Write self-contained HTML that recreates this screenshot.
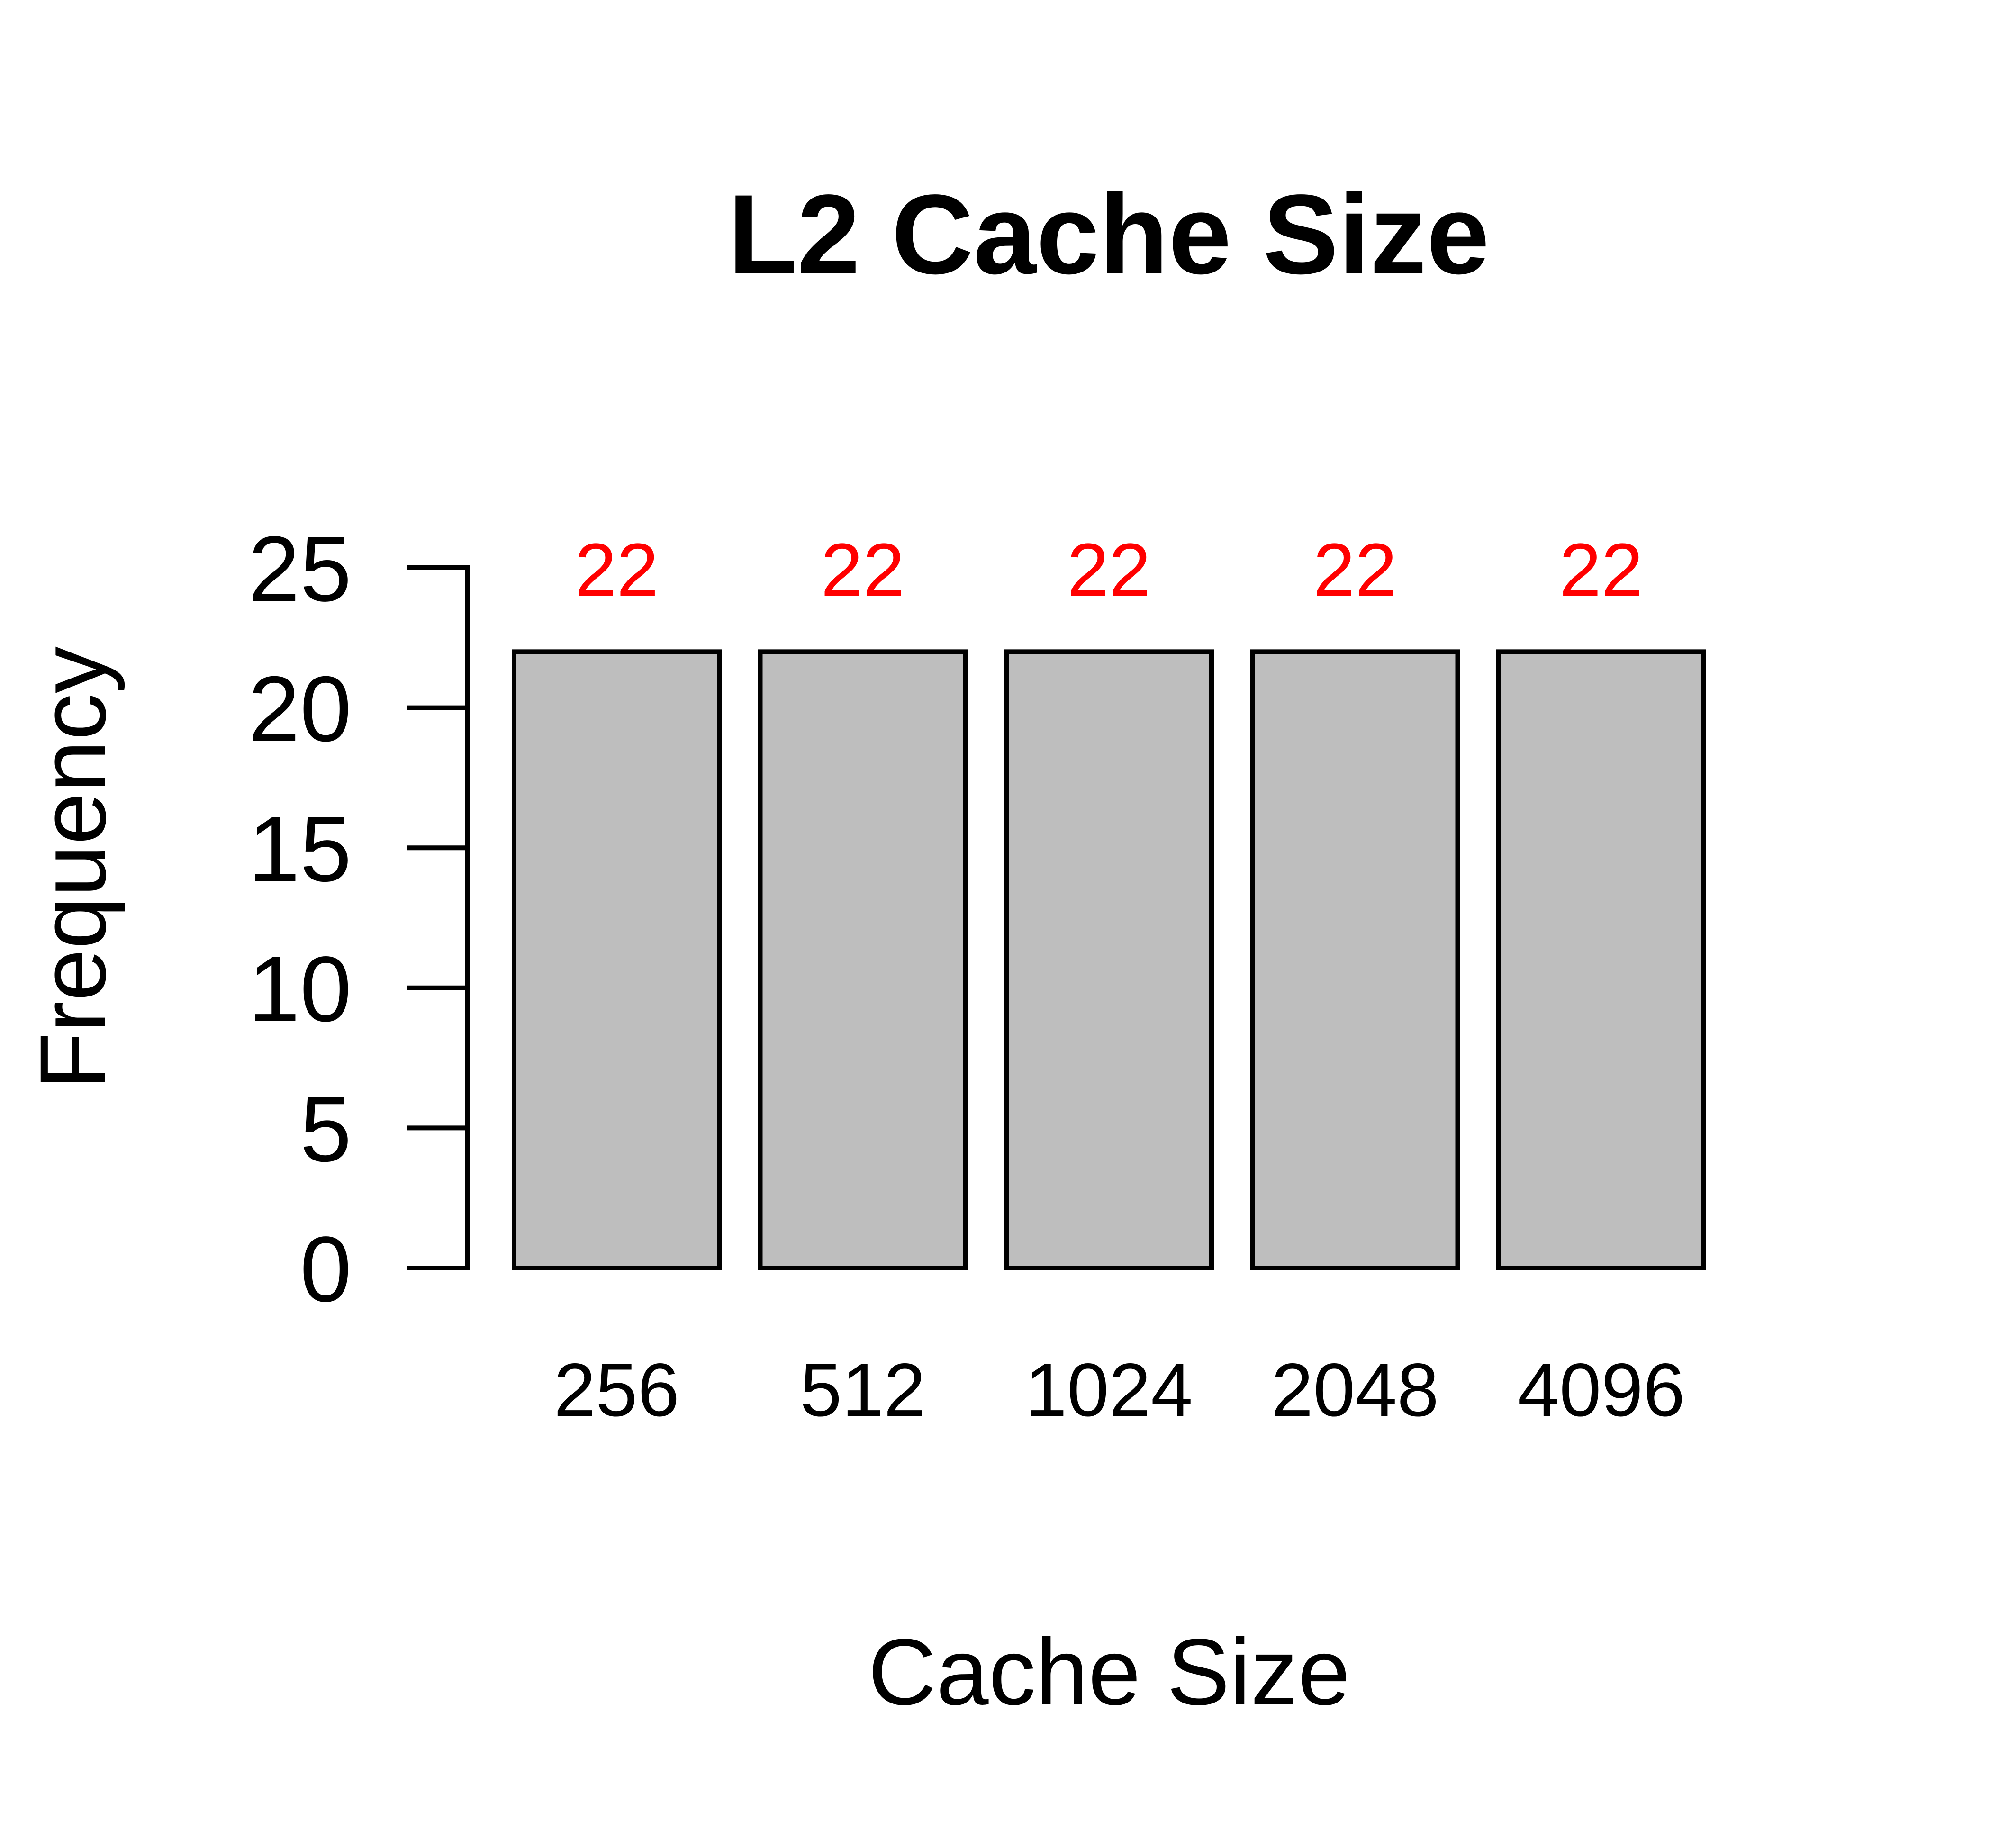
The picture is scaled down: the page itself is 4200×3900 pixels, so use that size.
<!DOCTYPE html>
<html><head><meta charset="utf-8"><style>
html,body{margin:0;padding:0;background:#fff}
svg{display:block}
text{font-family:"Liberation Sans",sans-serif}
</style></head><body>
<svg id="chart" width="4200" height="3900" xmlns="http://www.w3.org/2000/svg">
<rect width="4200" height="3900" fill="#fff"/>
<text x="2340" y="577" font-size="239" font-weight="bold" text-anchor="middle">L2 Cache Size</text>
<text x="2341" y="3597" font-size="199" text-anchor="middle">Cache Size</text>
<text transform="translate(222,1832) rotate(-90)" font-size="198" text-anchor="middle">Frequency</text>
<g id="axis"></g>
<g id="bars"></g>
</svg>
<script>
const categories = ["256","512","1024","2048","4096"];
const values = [22,22,22,22,22];
const yTicks = [0,5,10,15,20,25];
const ns = "http://www.w3.org/2000/svg";
const y0 = 2676, yTop = 1198, yMax = 25;
function yScale(v){ return y0 - (v / yMax) * (y0 - yTop); }
const barStart = 1085, barStep = 519.5, barW = 433;
function xScale(i){ return barStart + i * barStep; }
function mk(tag, attrs, parent){ const e = document.createElementNS(ns, tag); for (const k in attrs) e.setAttribute(k, attrs[k]); parent.appendChild(e); return e; }
const axis = document.getElementById('axis');
const bars = document.getElementById('bars');
const line = mk('line', {x1:986, x2:986, y1:yScale(0), y2:yScale(yTicks[yTicks.length-1]), stroke:'#000', 'stroke-width':10}, axis);


yTicks.forEach(t => {
  const tk = mk('line', {x1:859, x2:991, y1:yScale(t), y2:yScale(t), stroke:'#000', 'stroke-width':10}, axis);
  
  
  const lb = mk('text', {x:742, y:yScale(t)+70, 'font-size':196, 'text-anchor':'end'}, axis);
  lb.textContent = t;
  
  
});
categories.forEach((c, i) => {
  const x = xScale(i);
  const r = mk('rect', {x:x, y:yScale(values[i]), width:barW, height:yScale(0)-yScale(values[i]), fill:'#bebebe', stroke:'#000', 'stroke-width':10}, bars);
  
  
  const v = mk('text', {x:x+barW/2, y:yScale(values[i])-118, 'font-size':159, 'text-anchor':'middle', fill:'#ff0000'}, bars);
  v.textContent = values[i];
  
  
  const xl = mk('text', {x:x+barW/2, y:2988, 'font-size':159, 'text-anchor':'middle'}, bars);
  xl.textContent = c;
  
  
});
</script>
</body></html>
